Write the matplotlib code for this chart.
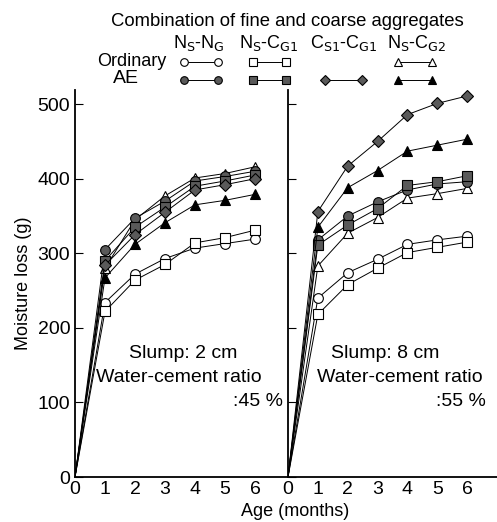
import matplotlib.pyplot as plt
from matplotlib.lines import Line2D

plt.rcParams['font.family'] = ['Liberation Sans', 'DejaVu Sans']

months = [0, 1, 2, 3, 4, 5, 6]

# slump 2 cm, w/c 45 %
left_ord_nsng = [0, 234, 272, 293, 307, 313, 319]
left_ord_nscg1 = [0, 222, 264, 285, 314, 321, 331]
left_ord_nscg2 = [0, 280, 345, 377, 401, 407, 416]
left_ae_nsng = [0, 305, 347, 370, 397, 403, 410]
left_ae_nscg1 = [0, 290, 335, 362, 390, 397, 405]
left_ae_cs1cg1 = [0, 284, 325, 355, 385, 392, 400]
left_ae_nscg2 = [0, 267, 312, 341, 365, 371, 379]

# slump 8 cm, w/c 55 %
right_ord_nsng = [0, 240, 274, 292, 312, 318, 323]
right_ord_nscg1 = [0, 218, 258, 280, 301, 308, 315]
right_ord_nscg2 = [0, 283, 327, 348, 374, 380, 387]
right_ae_nsng = [0, 318, 350, 369, 385, 393, 396]
right_ae_nscg1 = [0, 311, 338, 360, 391, 396, 404]
right_ae_cs1cg1 = [0, 356, 417, 450, 486, 501, 511]
right_ae_nscg2 = [0, 335, 388, 411, 437, 445, 453]

yticks = [0, 100, 200, 300, 400, 500]
xticks = [0, 1, 2, 3, 4, 5, 6]

grey = '#5a5a5a'
styles = {
    'ord_nsng': dict(marker='o', mfc='white'),
    'ord_nscg1': dict(marker='s', mfc='white'),
    'ord_nscg2': dict(marker='^', mfc='white'),
    'ae_nsng': dict(marker='o', mfc=grey),
    'ae_nscg1': dict(marker='s', mfc=grey),
    'ae_cs1cg1': dict(marker='D', mfc=grey),
    'ae_nscg2': dict(marker='^', mfc='black'),
}

left_data = {
    'ord_nsng': left_ord_nsng, 'ord_nscg1': left_ord_nscg1,
    'ord_nscg2': left_ord_nscg2, 'ae_nsng': left_ae_nsng,
    'ae_nscg1': left_ae_nscg1, 'ae_cs1cg1': left_ae_cs1cg1,
    'ae_nscg2': left_ae_nscg2,
}
right_data = {
    'ord_nsng': right_ord_nsng, 'ord_nscg1': right_ord_nscg1,
    'ord_nscg2': right_ord_nscg2, 'ae_nsng': right_ae_nsng,
    'ae_nscg1': right_ae_nscg1, 'ae_cs1cg1': right_ae_cs1cg1,
    'ae_nscg2': right_ae_nscg2,
}

W, H = 497, 522
fig = plt.figure(figsize=(W / 100, H / 100), dpi=100)

bottom = (H - 477) / H
top = (H - 90) / H
ax1 = fig.add_axes([75 / W, bottom, (288 - 75) / W, top - bottom])
ax2 = fig.add_axes([288 / W, bottom, (W - 288) / W, top - bottom])


def draw(ax, data, xmax):
    for key, ys in data.items():
        st = styles[key]
        ms = 6.5 if st['marker'] == 'D' else 7
        ax.plot(months, ys, color='black', lw=0.7, marker=st['marker'],
                mfc=st['mfc'], mec='black', mew=0.8, ms=ms,
                markevery=list(range(1, 7)))
    ax.set_xlim(0, xmax)
    ax.set_ylim(0, 519)
    ax.set_xticks(xticks)
    ax.set_yticks(yticks)
    for s in ['top', 'right']:
        ax.spines[s].set_visible(False)
    ax.spines['left'].set_linewidth(1.3)
    ax.spines['bottom'].set_linewidth(1.3)
    ax.tick_params(axis='y', direction='in', length=6, labelsize=14)
    ax.tick_params(axis='x', length=0, labelsize=14, pad=3)
    ax.patch.set_alpha(0)


draw(ax1, left_data, 7.1)
draw(ax2, right_data, 7.0)
ax2.tick_params(axis='y', labelleft=False)

ax1.set_ylabel('Moisture loss (g)', fontsize=13, labelpad=4)
fig.text(295 / W, 1 - 512 / H, 'Age (months)', ha='center', va='center', fontsize=13)

ax1.text(3.6, 165, 'Slump: 2 cm', ha='center', va='center', fontsize=14)
ax1.text(3.45, 133, 'Water-cement ratio', ha='center', va='center', fontsize=14)
ax1.text(6.1, 101, ':45 %', ha='center', va='center', fontsize=14)
ax2.text(3.25, 165, 'Slump: 8 cm', ha='center', va='center', fontsize=14)
ax2.text(3.75, 133, 'Water-cement ratio', ha='center', va='center', fontsize=14)
ax2.text(5.8, 101, ':55 %', ha='center', va='center', fontsize=14)

# legend block at top
fig.text(287 / W, 1 - 22 / H, 'Combination of fine and coarse aggregates',
         ha='center', va='center', fontsize=13.3)
heads = [r'N$_{\rm S}$-N$_{\rm G}$', r'N$_{\rm S}$-C$_{\rm G1}$',
         r'C$_{\rm S1}$-C$_{\rm G1}$', r'N$_{\rm S}$-C$_{\rm G2}$']
head_x = [199, 269, 344, 417]
for hx, h in zip(head_x, heads):
    fig.text(hx / W, 1 - 43 / H, h, ha='center', va='center', fontsize=13)
fig.text(166 / W, 1 - 61 / H, 'Ordinary', ha='right', va='center', fontsize=13)
fig.text(139 / W, 1 - 79 / H, 'AE', ha='right', va='center', fontsize=14)

pairs = [(184, 218), (253, 286), (325, 362), (398, 432)]
ord_keys = ['ord_nsng', 'ord_nscg1', None, 'ord_nscg2']
ae_keys = ['ae_nsng', 'ae_nscg1', 'ae_cs1cg1', 'ae_nscg2']
for row_y, keys in [(62, ord_keys), (80, ae_keys)]:
    for (xa, xb), key in zip(pairs, keys):
        if key is None:
            continue
        st = styles[key]
        ln = Line2D([xa / W, xb / W], [1 - row_y / H] * 2,
                    transform=fig.transFigure, color='black', lw=0.7,
                    marker=st['marker'], mfc=st['mfc'], mec='black',
                    mew=0.8, ms=5.5)
        fig.add_artist(ln)

fig.savefig('out.png', dpi=100)
